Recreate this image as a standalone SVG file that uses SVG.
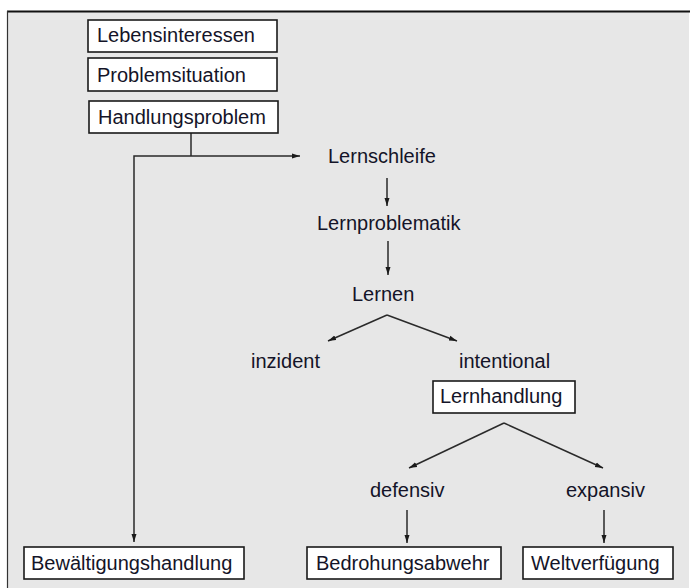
<svg xmlns="http://www.w3.org/2000/svg" width="690" height="588" viewBox="0 0 690 588">
<style>
.t{font-family:"Liberation Sans",Arial,sans-serif;font-size:20px;fill:#141428}
.b{fill:#fff;stroke:#1a1a1a;stroke-width:1.6}
.c{fill:none;stroke:#2a2a2a;stroke-width:1.5}
.a{marker-end:url(#ah)}
</style>
<defs>
<marker id="ah" markerUnits="userSpaceOnUse" markerWidth="9" markerHeight="7" refX="8" refY="3" orient="auto">
<path d="M0,0.5 L8,3 L0,5.5 z" fill="#1a1a1a"/>
</marker>
</defs>
<rect x="0" y="0" width="690" height="588" fill="#fff"/>
<rect x="7" y="11" width="682" height="580" fill="#e7e7e7"/>
<line x1="7" y1="11.5" x2="690" y2="11.5" stroke="#111" stroke-width="2"/>
<line x1="7.5" y1="11" x2="7.5" y2="588" stroke="#333" stroke-width="1.2"/>
<g id="connectors">
<path class="c" d="M191,133 V156"/>
<path class="c a" d="M191,156 H300"/>
<path class="c a" d="M191,156 H134 V542"/>
<path class="c a" d="M387,178 V206"/>
<path class="c a" d="M388,241 V275"/>
<path class="c a" d="M387,315 L328,341"/>
<path class="c a" d="M387,315 L457,341"/>
<path class="c a" d="M504,423 L409,468"/>
<path class="c a" d="M504,423 L603,468"/>
<path class="c a" d="M407,510 V543"/>
<path class="c a" d="M604,510 V543"/>
</g>
<g id="lebensinteressen"><rect class="b" x="88" y="20" width="189" height="32"/><text class="t" x="97" y="42">Lebensinteressen</text></g>
<g id="problemsituation"><rect class="b" x="88" y="58" width="189" height="33"/><text class="t" x="97" y="82">Problemsituation</text></g>
<g id="handlungsproblem"><rect class="b" x="89" y="101" width="189" height="32"/><text class="t" x="98" y="124">Handlungsproblem</text></g>
<g id="lernschleife"><text class="t" x="328" y="163">Lernschleife</text></g>
<g id="lernproblematik"><text class="t" x="317" y="230">Lernproblematik</text></g>
<g id="lernen"><text class="t" x="352" y="301">Lernen</text></g>
<g id="inzident"><text class="t" x="251" y="368">inzident</text></g>
<g id="intentional"><text class="t" x="459" y="368">intentional</text></g>
<g id="lernhandlung"><rect class="b" x="433" y="381" width="142" height="32"/><text class="t" x="440" y="403">Lernhandlung</text></g>
<g id="defensiv"><text class="t" x="370" y="497">defensiv</text></g>
<g id="expansiv"><text class="t" x="566" y="497">expansiv</text></g>
<g id="bewaeltigungshandlung"><rect class="b" x="24" y="547" width="220" height="32"/><text class="t" x="31" y="570">Bewältigungshandlung</text></g>
<g id="bedrohungsabwehr"><rect class="b" x="307" y="547" width="194" height="32"/><text class="t" x="316" y="570">Bedrohungsabwehr</text></g>
<g id="weltverfuegung"><rect class="b" x="523" y="547" width="150" height="32"/><text class="t" x="531" y="570">Weltverfügung</text></g>
</svg>
